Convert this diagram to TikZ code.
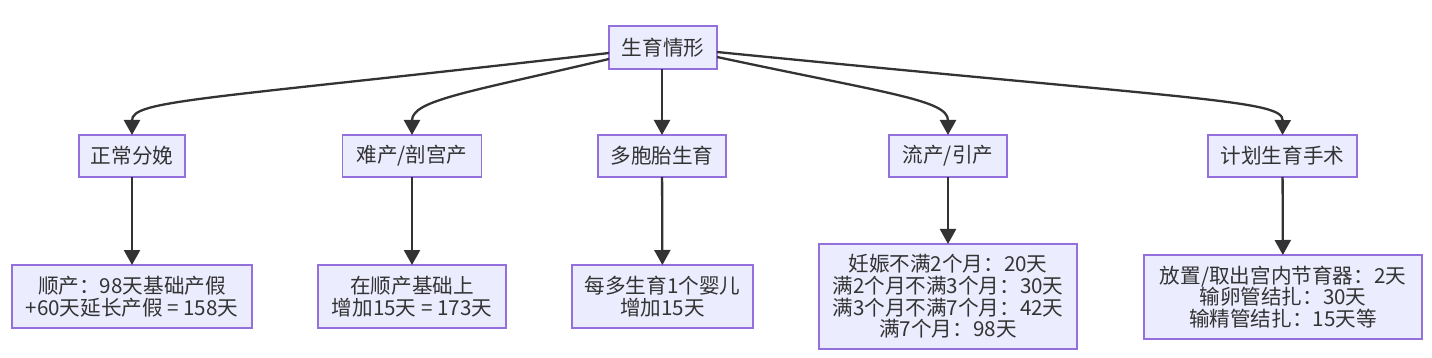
\documentclass[tikz,border=0pt]{standalone}
\usepackage{fontspec}
\setmainfont{Noto Sans CJK SC}
\usetikzlibrary{arrows.meta}
\definecolor{boxfill}{HTML}{ECECFF}
\definecolor{boxline}{HTML}{9370DB}
\definecolor{ink}{HTML}{333333}
\begin{document}
\begin{tikzpicture}[x=1pt,y=-1pt,
  box/.style={draw=boxline,fill=boxfill,line width=1.3pt,inner sep=0pt,outer sep=0pt,
    align=center,text=ink,font=\fontsize{20.6}{21.7}\selectfont},
  edge/.style={draw=ink,line width=2.3pt,-{Triangle[width=16pt,length=15pt]}}]
\useasboundingbox (0,0) rectangle (1432,358);
\fill[white] (0,0) rectangle (1432,358);
\node[box,minimum width=108pt,minimum height=43pt] (root) at (663,47.5) {生育情形};
\node[box,minimum width=106pt,minimum height=42pt] (n1) at (132,156) {正常分娩};
\node[box,minimum width=139pt,minimum height=42pt] (n2) at (412,156) {难产/剖宫产};
\node[box,minimum width=128pt,minimum height=42pt] (n3) at (662,156) {多胞胎生育};
\node[box,minimum width=118pt,minimum height=42pt] (n4) at (948,156) {流产/引产};
\node[box,minimum width=149pt,minimum height=42pt] (n5) at (1282.5,156) {计划生育手术};
\node[box,minimum width=240pt,minimum height=63pt] (g1) at (132,296.5) {顺产：98天基础产假\\+60天延长产假 = 158天};
\node[box,minimum width=188pt,minimum height=63pt] (g2) at (412,296.5) {在顺产基础上\\增加15天 = 173天};
\node[box,minimum width=181pt,minimum height=63pt] (g3) at (662.5,296.5) {每多生育1个婴儿\\增加15天};
\node[box,minimum width=258pt,minimum height=105pt] (g4) at (948,296.5) {妊娠不满2个月：20天\\满2个月不满3个月：30天\\满3个月不满7个月：42天\\满7个月：98天};
\node[box,minimum width=278pt,minimum height=84pt] (g5) at (1283,297) {放置/取出宫内节育器：2天\\输卵管结扎：30天\\输精管结扎：15天等};
\draw[edge] ([yshift=-5.5pt]root.west) .. controls (200,100) and (132,100) .. (n1.north);
\draw[edge] ([yshift=-11.5pt]root.west) .. controls (470,92) and (412,100) .. (n2.north);
\draw[edge] (root.south -| n3.north) -- (n3.north);
\draw[edge] ([yshift=-9.5pt]root.east) .. controls (890,94) and (948,100) .. (n4.north);
\draw[edge] ([yshift=-4.5pt]root.east) .. controls (1200,100) and (1283,100) .. (n5.north);
\draw[edge] (n1) -- (g1);
\draw[edge] (n2) -- (g2);
\draw[edge] (n3) -- (g3);
\draw[edge] (n4) -- (g4);
\draw[edge] (n5) -- (g5);
\end{tikzpicture}
\end{document}
